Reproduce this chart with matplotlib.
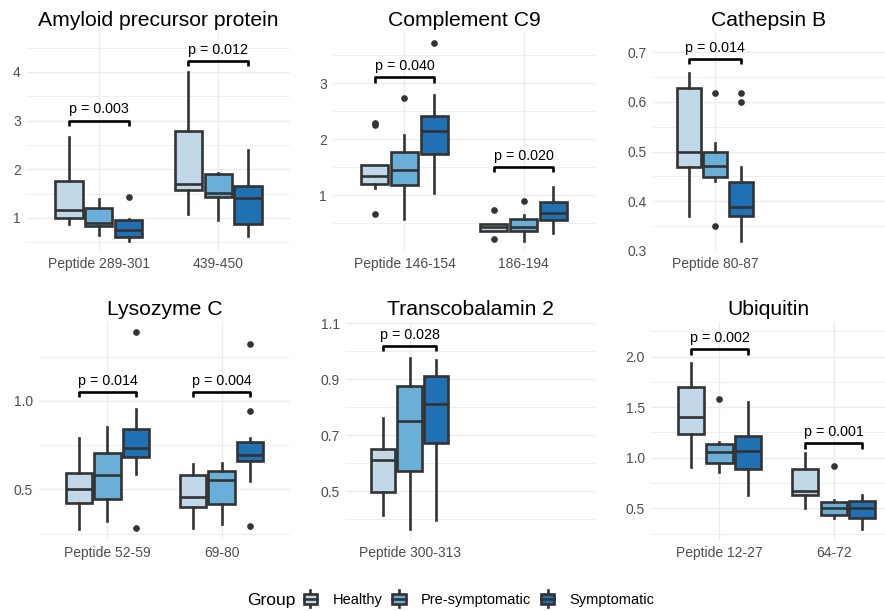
import matplotlib
matplotlib.use('Agg')
import matplotlib.pyplot as plt
from matplotlib.legend_handler import HandlerBase
from matplotlib.patches import Patch, Rectangle
from matplotlib.lines import Line2D

plt.rcParams['font.family'] = ['Liberation Sans', 'DejaVu Sans']

groups = ['Healthy', 'Pre-symptomatic', 'Symptomatic']
colors = ['#c0d8e8', '#6aafd7', '#2070b4']
edge = '#333333'

# box stats per group: [whisker low, q1, median, q3, whisker high]
app_289 = [[0.87, 1.00, 1.17, 1.75, 2.66], [0.66, 0.84, 0.90, 1.21, 1.38], [0.53, 0.60, 0.76, 0.95, 0.98]]
app_289_out = [[], [], [1.44]]
app_439 = [[1.09, 1.57, 1.69, 2.78, 4.00], [0.95, 1.44, 1.51, 1.90, 1.93], [0.64, 0.88, 1.42, 1.66, 2.40]]
app_439_out = [[], [], []]

c9_146 = [[1.13, 1.20, 1.35, 1.54, 1.54], [0.58, 1.18, 1.45, 1.78, 2.08], [1.05, 1.73, 2.15, 2.42, 2.79]]
c9_146_out = [[2.25, 2.29, 0.66], [2.73], [3.73]]
c9_186 = [[0.37, 0.37, 0.44, 0.49, 0.49], [0.19, 0.36, 0.44, 0.58, 0.65], [0.33, 0.56, 0.69, 0.88, 1.15]]
c9_186_out = [[0.73, 0.22], [0.90], []]

ctsb_80 = [[0.370, 0.469, 0.500, 0.629, 0.659], [0.440, 0.449, 0.471, 0.500, 0.518], [0.320, 0.369, 0.389, 0.439, 0.469]]
ctsb_80_out = [[], [0.619, 0.350], [0.619, 0.599]]

lyz_52 = [[0.274, 0.421, 0.500, 0.590, 0.788], [0.323, 0.444, 0.581, 0.707, 0.850], [0.585, 0.680, 0.733, 0.838, 0.951]]
lyz_52_out = [[], [], [1.389, 0.284]]
lyz_69 = [[0.284, 0.398, 0.455, 0.581, 0.641], [0.303, 0.415, 0.551, 0.603, 0.650], [0.547, 0.662, 0.695, 0.767, 0.788]]
lyz_69_out = [[], [], [1.320, 0.940, 0.293]]

tcn2_300 = [[0.414, 0.495, 0.612, 0.652, 0.761], [0.364, 0.573, 0.752, 0.876, 0.977], [0.395, 0.671, 0.811, 0.912, 0.969]]
tcn2_300_out = [[], [], []]

ubq_12 = [[0.912, 1.232, 1.407, 1.697, 1.934], [0.862, 0.945, 1.057, 1.136, 1.159], [0.632, 0.889, 1.070, 1.219, 1.555]]
ubq_12_out = [[], [1.581], []]
ubq_64 = [[0.506, 0.628, 0.671, 0.892, 1.044], [0.401, 0.434, 0.500, 0.562, 0.582], [0.292, 0.408, 0.500, 0.569, 0.628]]
ubq_64_out = [[], [0.919], []]

titles = ['Amyloid precursor protein', 'Complement C9', 'Cathepsin B',
          'Lysozyme C', 'Transcobalamin 2', 'Ubiquitin']
peptides = [['Peptide 289-301', '439-450'], ['Peptide 146-154', '186-194'], ['Peptide 80-87'],
            ['Peptide 52-59', '69-80'], ['Peptide 300-313'], ['Peptide 12-27', '64-72']]
stats = [[app_289, app_439], [c9_146, c9_186], [ctsb_80],
         [lyz_52, lyz_69], [tcn2_300], [ubq_12, ubq_64]]
outs = [[app_289_out, app_439_out], [c9_146_out, c9_186_out], [ctsb_80_out],
        [lyz_52_out, lyz_69_out], [tcn2_300_out], [ubq_12_out, ubq_64_out]]
pvals = [['p = 0.003', 'p = 0.012'], ['p = 0.040', 'p = 0.020'], ['p = 0.014'],
         ['p = 0.014', 'p = 0.004'], ['p = 0.028'], ['p = 0.002', 'p = 0.001']]
bracket_y = [[3.00, 4.23], [3.11, 1.51], [0.687], [1.051, 1.051], [1.019], [2.073, 1.143]]
yticks = [[1, 2, 3, 4], [1, 2, 3], [0.3, 0.4, 0.5, 0.6, 0.7],
          [0.5, 1.0], [0.5, 0.7, 0.9, 1.1], [0.5, 1.0, 1.5, 2.0]]
ytick_labels = [['1', '2', '3', '4'], ['1', '2', '3'], ['0.3', '0.4', '0.5', '0.6', '0.7'],
                ['0.5', '1.0'], ['0.5', '0.7', '0.9', '1.1'], ['0.5', '1.0', '1.5', '2.0']]
yminor = [[0.5, 1.5, 2.5, 3.5, 4.5], [0.5, 1.5, 2.5, 3.5], [0.35, 0.45, 0.55, 0.65],
          [0.25, 0.75, 1.25], [0.4, 0.6, 0.8, 1.0], [0.25, 0.75, 1.25, 1.75, 2.25]]

# layout in pixels: (left, top, right, bottom), ylim, xlim
W, H = 885, 611
boxes_px = [(27, 33, 290, 251), (333, 33, 595, 251), (653, 33, 885, 251),
            (39, 322, 290, 540), (346, 322, 595, 540), (651, 322, 885, 540)]
ylims = [(0.322, 4.80), (0.005, 3.90), (0.2994, 0.739),
         (0.214, 1.445), (0.325, 1.105), (0.188, 2.341)]
xlims = [(0.4, 2.6), (0.4, 2.6), (0.4, 2.646), (0.4, 2.6), (0.4, 2.75), (0.4, 2.45)]

fig = plt.figure(figsize=(W / 100, H / 100), dpi=100)

offsets = [-0.25, 0, 0.25]
for i in range(6):
    l, t, r, b = boxes_px[i]
    ax = fig.add_axes([l / W, 1 - b / H, (r - l) / W, (b - t) / H])
    ax.set_xlim(*xlims[i])
    ax.set_ylim(*ylims[i])
    for s in ax.spines.values():
        s.set_visible(False)
    ax.set_yticks(yticks[i])
    ax.set_yticklabels(ytick_labels[i])
    ax.set_yticks(yminor[i], minor=True)
    cats = list(range(1, len(peptides[i]) + 1))
    ax.set_xticks(cats)
    ax.set_xticklabels(peptides[i])
    ax.tick_params(which='both', length=0, labelsize=10, labelcolor='#4d4d4d')
    ax.tick_params(axis='y', pad=4.5)
    ax.tick_params(axis='x', pad=4)
    ax.grid(True, which='major', color='#ebebeb', lw=0.9)
    ax.grid(True, which='minor', axis='y', color='#ebebeb', lw=0.6)
    ax.set_axisbelow(True)
    ax.set_title(titles[i], fontsize=15.2, pad=5)

    yr = ylims[i][1] - ylims[i][0]
    for c, st, ot in zip(cats, stats[i], outs[i]):
        for g in range(3):
            lo, q1, med, q3, hi = st[g]
            ax.bxp([dict(whislo=lo, q1=q1, med=med, q3=q3, whishi=hi, fliers=ot[g])],
                   positions=[c + offsets[g]], widths=0.23, patch_artist=True,
                   showcaps=False, manage_ticks=False,
                   boxprops=dict(facecolor=colors[g], edgecolor=edge, lw=1.9),
                   medianprops=dict(color=edge, lw=1.9),
                   whiskerprops=dict(color=edge, lw=1.9),
                   flierprops=dict(marker='o', markersize=3.8, markerfacecolor=edge,
                                   markeredgecolor=edge))
        # significance bracket
        by = bracket_y[i][c - 1]
        tip = 0.025 * yr
        x0, x1 = c + offsets[0], c + offsets[2]
        ax.plot([x0, x0, x1, x1], [by - tip, by, by, by - tip], color='black', lw=1.9,
                solid_capstyle='butt', clip_on=False)
        ax.annotate(pvals[i][c - 1], (c, by), xytext=(0, 3), textcoords='offset points',
                    ha='center', va='bottom', fontsize=10.3)


class BoxKey(HandlerBase):
    def create_artists(self, legend, orig_handle, xdescent, ydescent, width, height,
                       fontsize, trans):
        x0, y0 = -xdescent, -ydescent
        cx = x0 + width / 2
        whisk = Line2D([cx, cx], [y0 - 0.3 * height, y0 + 1.3 * height], color=edge,
                       lw=1.9, transform=trans)
        rect = Rectangle((x0 + 0.05 * width, y0), 0.9 * width, height,
                         facecolor=orig_handle.get_facecolor(), edgecolor=edge, lw=1.9,
                         transform=trans)
        med = Line2D([x0 + 0.05 * width, x0 + 0.95 * width], [y0 + 0.5 * height] * 2,
                     color=edge, lw=1.9, transform=trans)
        return [whisk, rect, med]


handles = [Patch(facecolor=c) for c in colors]
fig.text(247 / W, 1 - 600 / H, 'Group', fontsize=12.5, va='center', ha='left')
fig.legend(handles, groups, handler_map={Patch: BoxKey()}, loc='center left',
           bbox_to_anchor=(290 / W, 1 - 600 / H), ncol=3, frameon=False, fontsize=10.5,
           handlelength=1.0, handleheight=0.75, handletextpad=1.0, columnspacing=0.65)

fig.savefig('out.png', dpi=100, facecolor='white')
